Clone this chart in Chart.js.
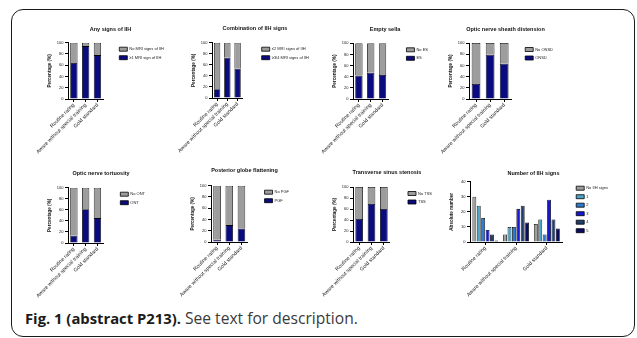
<!DOCTYPE html>
<html>
<head>
<meta charset="utf-8">
<script src="https://cdn.jsdelivr.net/npm/chart.js@4.4.0/dist/chart.umd.min.js"></script>
<style>
  html, body { margin: 0; padding: 0; background: #fff; }
  body { width: 637px; height: 338px; position: relative; overflow: hidden; }
  .frame { position: absolute; left: 11px; top: 9px; width: 622px; height: 326px; border: 1.5px solid #1b1b1b; border-radius: 12px; }
  canvas { position: absolute; }
  .caption { position: absolute; left: 25px; top: 309px; line-height: 18px; font-family: 'Open Sans', sans-serif; font-size: 15.6px; color: #3a3a3a; white-space: nowrap; }
  .caption b { font-weight: 700; color: #1a1a1a; font-size: 14.8px; }
</style>
</head>
<body>
<div class="frame"></div>
<canvas id="anySigns"></canvas>
<canvas id="combination"></canvas>
<canvas id="emptySella"></canvas>
<canvas id="onsd"></canvas>
<canvas id="tortuosity"></canvas>
<canvas id="globe"></canvas>
<canvas id="sinus"></canvas>
<canvas id="signCount"></canvas>
<div class="caption"><b>Fig. 1 (abstract P213).</b> See text for description.</div>
<script>
// data (percent of cases / absolute counts)
const categories = ['Routine rating', 'Aware without special training', 'Gold standard'];

const anySignsYes = [64, 94, 78];
const anySignsNo = [36, 6, 22];
const comboHigh = [16, 73, 53];
const comboLow = [84, 27, 47];
const esYes = [42, 47, 43];
const esNo = [58, 53, 57];
const onsdYes = [27, 79, 63];
const onsdNo = [73, 21, 37];
const ontYes = [13, 61, 45];
const ontNo = [87, 39, 55];
const pgfYes = [4, 30, 24];
const pgfNo = [96, 70, 76];
const tssYes = [42, 69, 60];
const tssNo = [58, 31, 40];

const signLabels = ['No IIH signs', '1', '2', '3', '4', '5'];
const noSigns = [30, 5, 12];
const oneSign = [24, 10, 15];
const twoSigns = [16, 10, 5];
const threeSigns = [8, 22, 28];
const fourSigns = [5, 24, 15];
const fiveSigns = [1, 13, 9];

const FONT = "'Liberation Sans', Arial, sans-serif";
const navy = '#0b0b80';
const grey = '#9d9d9d';
const signColors = ['#9d9d9d', '#4ea3c6', '#2c7bd0', '#1616d6', '#203e6c', '#0b0b62'];

const Y_AXIS_W = 21;
const X_AXIS_H = 60;
const TITLE_SIZE = 5.5;
const LEGEND_FONT = 4;
const LEGEND_PAD = 4.5;
const LEGEND_BOX = 8;

Chart.defaults.font.family = FONT;
Chart.defaults.color = '#1a1a1a';

const measureCtx = document.createElement('canvas').getContext('2d');
function textWidth(str, size) {
    measureCtx.font = size + 'px ' + FONT;
    return measureCtx.measureText(str).width;
}

// place the canvas so that the plot area lands where it sits in the figure,
// with extra left padding so the full-width title centres over the plot
function setupCanvas(id, panel, legendNames) {
    const canvas = document.getElementById(id);
    const maxText = Math.max(...legendNames.map(n => textWidth(n, LEGEND_FONT)));
    const legendW = LEGEND_PAD + LEGEND_BOX + LEGEND_FONT / 2 + maxText + 10;
    const gapW = panel.legendGap - LEGEND_PAD;
    const rest = panel.plotRight - panel.plotLeft + Y_AXIS_W + gapW + legendW;
    const padLeft = Math.max(0, Math.round(2 * (panel.plotLeft - Y_AXIS_W + rest / 2 - panel.titleX)));
    const left = Math.round(panel.plotLeft - Y_AXIS_W - padLeft);
    const top = Math.round(panel.titleY - 9);
    canvas.width = Math.round(rest + padLeft);
    canvas.height = Math.round(panel.plotBottom - top + X_AXIS_H);
    canvas.style.left = left + 'px';
    canvas.style.top = top + 'px';
    const titleH = TITLE_SIZE * 1.2;
    const padTop = panel.titleY - top - titleH / 2;
    return { canvas, gapW, padLeft, padTop, padBottom: panel.plotTop - top - padTop - titleH };
}

function baseOptions(title, yTitle, yMax, yStep, stacked, box) {
    return {
        responsive: false,
        animation: false,
        events: [],
        layout: { padding: { left: box.padLeft, right: 0, top: 0, bottom: 0 } },
        plugins: {
            title: {
                display: true, text: title, color: '#111',
                font: { size: TITLE_SIZE, weight: 'bold' },
                padding: { top: box.padTop, bottom: box.padBottom }
            },
            legend: {
                position: 'right', align: 'start', fullSize: false, reverse: stacked, maxWidth: 400,
                labels: { boxWidth: LEGEND_BOX, boxHeight: 4, font: { size: LEGEND_FONT }, color: '#222', padding: LEGEND_PAD }
            },
            tooltip: { enabled: false }
        },
        scales: {
            x: {
                stacked: stacked,
                grid: { drawOnChartArea: false, offset: false, tickLength: 3, color: '#000', lineWidth: 1 },
                border: { color: '#000', width: 1 },
                ticks: { font: { size: 5.2 }, minRotation: 45, maxRotation: 45, autoSkip: false, padding: 0, color: '#1a1a1a' },
                afterFit: s => { s.height = X_AXIS_H; }
            },
            y: {
                stacked: stacked, min: 0, max: yMax,
                ticks: { stepSize: yStep, font: { size: 4 }, padding: 1.5, color: '#1a1a1a' },
                grid: { drawOnChartArea: false, tickLength: 3, color: '#000', lineWidth: 1 },
                border: { color: '#000', width: 1 },
                title: { display: true, text: yTitle, color: '#111', font: { size: 4.6, weight: 'bold' }, padding: { top: 0, bottom: 0 } },
                afterFit: s => { s.width = Y_AXIS_W; }
            },
            gap: {
                type: 'linear', position: 'right', display: true,
                grid: { display: false }, border: { display: false }, ticks: { display: false },
                afterFit: s => { s.width = box.gapW; }
            }
        }
    };
}

function renderStacked(id, panel, title, yesVals, noVals, yesLabel, noLabel) {
    const box = setupCanvas(id, panel, [yesLabel, noLabel]);
    new Chart(box.canvas, {
        type: 'bar',
        data: {
            labels: categories,
            datasets: [
                { label: yesLabel, data: yesVals, backgroundColor: navy, borderColor: '#000', borderWidth: 0.8, barPercentage: 0.62, categoryPercentage: 1 },
                { label: noLabel, data: noVals, backgroundColor: grey, borderColor: '#000', borderWidth: 0.8, barPercentage: 0.62, categoryPercentage: 1 }
            ]
        },
        options: baseOptions(title, 'Percentage (%)', 100, 20, true, box)
    });
}

function renderSignCount(id, panel) {
    const box = setupCanvas(id, panel, signLabels);
    const series = [noSigns, oneSign, twoSigns, threeSigns, fourSigns, fiveSigns];
    new Chart(box.canvas, {
        type: 'bar',
        data: {
            labels: categories,
            datasets: series.map((vals, i) => ({
                label: signLabels[i], data: vals, backgroundColor: signColors[i],
                borderColor: '#000', borderWidth: 0.8, barPercentage: 0.88, categoryPercentage: 0.86
            }))
        },
        options: baseOptions('Number of IIH signs', 'Absolute number', 40, 10, false, box)
    });
}

renderStacked('anySigns', { plotLeft: 68, plotRight: 103, plotTop: 42.7, plotBottom: 98.7, titleX: 86, titleY: 29, legendGap: 16 },
    'Any signs of IIH', anySignsYes, anySignsNo, '\u22651 MRI sign of IIH', 'No MRI signs of IIH');
renderStacked('combination', { plotLeft: 212, plotRight: 243, plotTop: 42.7, plotBottom: 98.3, titleX: 228, titleY: 28, legendGap: 19 },
    'Combination of IIH signs', comboHigh, comboLow, '\u22653/4 MRI signs of IIH', '\u22642 MRI signs of IIH');
renderStacked('emptySella', { plotLeft: 353, plotRight: 388, plotTop: 43.3, plotBottom: 98.7, titleX: 372, titleY: 29, legendGap: 18 },
    'Empty sella', esYes, esNo, 'ES', 'No ES');
renderStacked('onsd', { plotLeft: 469, plotRight: 511, plotTop: 43, plotBottom: 98.7, titleX: 490, titleY: 29, legendGap: 14 },
    'Optic nerve sheath distension', onsdYes, onsdNo, 'ONSD', 'No ONSD');
renderStacked('tortuosity', { plotLeft: 68, plotRight: 103, plotTop: 187.7, plotBottom: 242.7, titleX: 86, titleY: 173, legendGap: 17 },
    'Optic nerve tortuosity', ontYes, ontNo, 'ONT', 'No ONT');
renderStacked('globe', { plotLeft: 211, plotRight: 248, plotTop: 185.7, plotBottom: 242, titleX: 229, titleY: 170, legendGap: 17 },
    'Posterior globe flattening', pgfYes, pgfNo, 'PGF', 'No PGF');
renderStacked('sinus', { plotLeft: 353, plotRight: 390, plotTop: 187, plotBottom: 242, titleX: 372, titleY: 172, legendGap: 18 },
    'Transverse sinus stenosis', tssYes, tssNo, 'TSS', 'No TSS');
renderSignCount('signCount', { plotLeft: 470, plotRight: 562, plotTop: 181.7, plotBottom: 241.7, titleX: 515, titleY: 173, legendGap: 14 });
</script>
</body>
</html>
